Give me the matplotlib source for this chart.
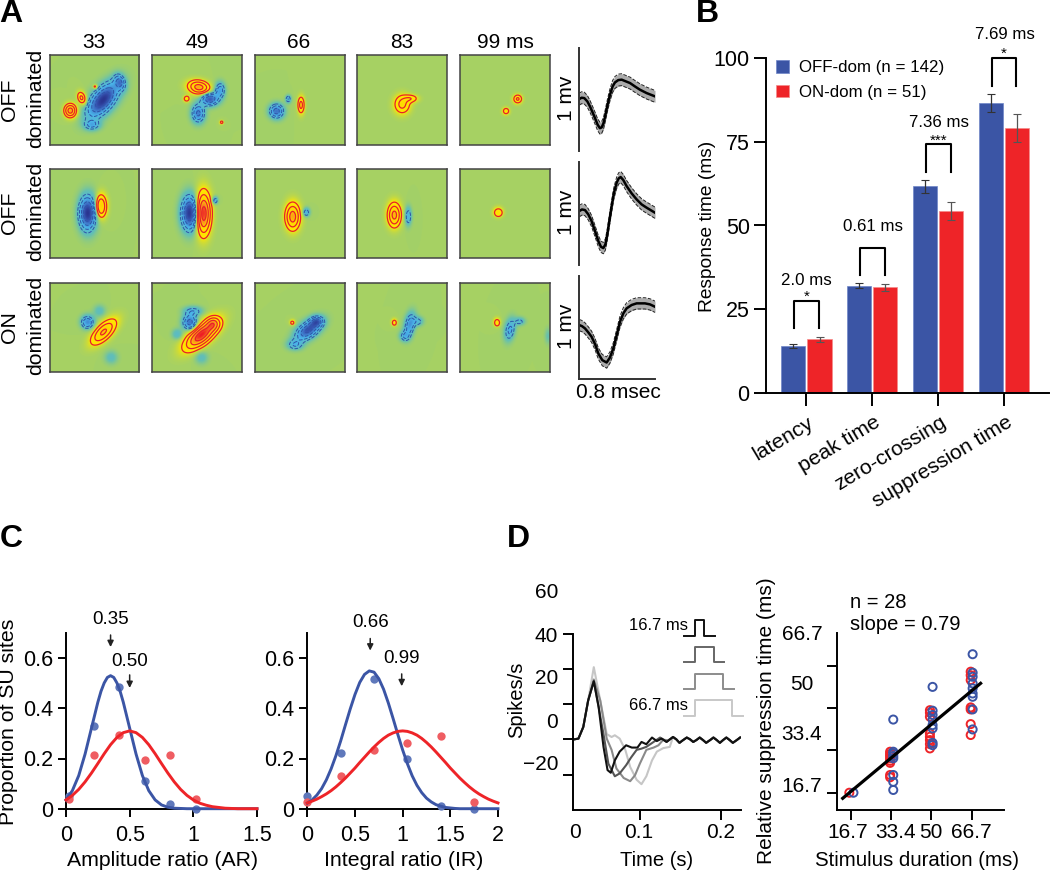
import numpy as np
import matplotlib
matplotlib.use('Agg')
import matplotlib.pyplot as plt
from matplotlib.colors import LinearSegmentedColormap

plt.rcParams['font.family'] = ['Liberation Sans', 'DejaVu Sans']
plt.rcParams['axes.linewidth'] = 1.4

W, H = 1050, 873
BLUE = '#3B55A5'
RED = '#EE2428'

# --- Panel A: receptive field spots, (x, y, sx, sy, angle, amplitude) read per map
column_titles = ['33', '49', '66', '83', '99 ms']
row_names = ['OFF', 'OFF', 'ON']
spots = [
    [
        [(.23, .62, .045, .05, 0, .95), (.357, .48, .032, .05, -20, .6), (.505, .353, .018, .018, 0, .4),
         (.59, .5, .16, .08, -50, -1.0), (.47, .78, .06, .04, 0, -.4), (.78, .3, .04, .06, -20, -.5)],
        [(.52, .36, .08, .05, 10, .95), (.383, .487, .024, .024, 0, .45), (.773, .75, .016, .016, 0, .35),
         (.643, .49, .065, .05, 0, -.8), (.513, .65, .05, .07, 0, -.65), (.755, .39, .04, .06, 0, -.5)],
        [(.513, .557, .026, .065, 0, .6), (.24, .625, .055, .055, 0, -.7), (.37, .49, .022, .03, 0, -.4)],
        [(.5, .55, .06, .07, 0, .6), (.6, .485, .055, .03, 0, .4)],
        [(.64, .49, .034, .034, 0, .55), (.51, .625, .028, .028, 0, .42)],
    ],
    [
        [(.57, .42, .042, .085, 0, .85), (.42, .5, .065, .13, 0, -1.0)],
        [(.57, .5, .055, .155, 0, 1.3), (.42, .5, .065, .13, 0, -1.0), (.7, .357, .024, .03, 0, -.4)],
        [(.42, .535, .055, .1, 0, .95), (.57, .49, .028, .034, 0, -.4)],
        [(.413, .517, .05, .09, 0, .9), (.569, .535, .026, .07, 0, -.4)],
        [(.424, .49, .036, .036, 0, .5)],
    ],
    [
        [(.42, .444, .05, .05, 0, -.6), (.6, .55, .12, .055, -45, .85), (.68, .84, .05, .05, 0, -.2),
         (.55, .32, .045, .045, 0, -.2)],
        [(.55, .585, .15, .065, -40, 1.3), (.68, .455, .05, .05, 0, .5), (.42, .444, .055, .06, 0, -.7),
         (.457, .32, .07, .035, 0, -.35), (.28, .58, .04, .04, 0, -.25), (.55, .84, .05, .05, 0, -.2)],
        [(.416, .447, .022, .022, 0, .35), (.595, .53, .11, .06, -35, -.85), (.69, .435, .05, .04, 0, -.5),
         (.446, .697, .06, .04, 0, -.35)],
        [(.413, .446, .022, .028, 0, .4), (.587, .47, .04, .09, 10, -.55), (.68, .435, .04, .035, 0, -.3),
         (.53, .6, .04, .04, 0, -.35)],
        [(.41, .446, .025, .032, 0, .45), (.554, .528, .04, .085, 10, -.45), (.665, .435, .04, .03, 0, -.3),
         (.98, .6, .025, .06, 0, -.15)],
    ],
]

# Panel A: mean spike waveforms
wave_t = [
    [0, .025, .053, .085, .113, .141, .166, .194, .218, .236, .254, .271, .296, .324, .352, .377, .412, .448,
     .493, .536, .588, .641, .712, .8],
    [0, .028, .06, .095, .13, .166, .201, .229, .254, .275, .296, .317, .342, .366, .395, .416, .437, .465, .5,
     .553, .606, .659, .712, .8],
    [0, .028, .06, .095, .13, .166, .201, .243, .289, .324, .359, .395, .43, .465, .5, .553, .606, .694, .747, .8],
]
wave_v = [
    [.502, .515, .511, .479, .43, .371, .316, .251, .218, .225, .261, .326, .436, .544, .625, .664, .687, .691,
     .674, .658, .625, .593, .56, .528],
    [.521, .537, .531, .489, .423, .326, .228, .173, .16, .195, .293, .423, .57, .7, .798, .84, .853, .824, .765,
     .694, .635, .586, .554, .505],
    [.521, .511, .489, .45, .407, .336, .244, .179, .156, .205, .293, .423, .554, .635, .684, .717, .733, .733,
     .723, .7],
]
wave_sem = [.058, .055, .055]

# --- Panel B
categories = ['latency', 'peak time', 'zero-crossing', 'suppression time']
off_time = [14, 32, 61.7, 86.5]
on_time = [16, 31.5, 54.2, 79]
off_err = [.7, .8, 1.9, 2.7]
on_err = [.8, 1.0, 2.7, 4.2]
diff_labels = ['2.0 ms', '0.61 ms', '7.36 ms', '7.69 ms']
diff_stars = ['*', '', '***', '*']
bracket_top = [27.5, 43.4, 74.2, 100.1]
bracket_low = [19.3, 35.2, 65.9, 91.7]
label_y = [33.7, 49.7, 80.7, 106.9]
star_y = [28.6, 0, 75.3, 101.2]

# --- Panel C
ar_blue_grid = [0, .05, .1, .15, .2, .25, .275, .3, .325, .35, .375, .4, .425, .45, .5, .55, .6, .65, .7, .75,
                .8, .85, .9, .95, 1.0, 1.5]
ar_blue = [.035, .072, .132, .218, .321, .424, .468, .501, .523, .53, .523, .501, .468, .424, .321, .218, .132,
           .072, .035, .015, .006, .002, .001, 0, 0, 0]
ar_red_grid = [.05 * i for i in range(31)]
ar_red = [.035, .053, .077, .107, .142, .18, .219, .255, .284, .303, .31, .303, .284, .255, .219, .18,
          .142, .107, .077, .053, .035, .022, .014, .008, .005, .002, .001, 0, 0, 0, 0]
ar_blue_x = [.02, .22, .42, .62, .82, 1.02]
ar_blue_y = [.05, .33, .485, .11, .02, 0]
ar_red_x = [.02, .22, .42, .62, .82, 1.02]
ar_red_y = [.04, .215, .295, .195, .215, .04]

ir_grid = [.05 * i for i in range(41)]
ir_blue = [.022, .035, .054, .08, .115, .159, .211, .27, .334, .397, .455, .503, .535, .549, .544, .518,
           .476, .421, .359, .295, .234, .179, .131, .093, .064, .042, .027, .016, .01, .005, .003, .001,
           0, 0, 0, 0, 0, 0, 0, 0, 0]
ir_red = [.023, .03, .038, .048, .059, .072, .087, .104, .122, .142, .162, .184, .205, .226, .246, .264,
          .28, .293, .302, .308, .31, .308, .302, .293, .28, .264, .246, .226, .205, .184, .162, .142,
          .122, .104, .087, .072, .059, .048, .038, .03, .023]
ir_blue_x = [0, .35, .7, 1.05, 1.4, 1.75]
ir_blue_y = [.05, .22, .515, .2, .01, 0]
ir_red_x = [0, .35, .7, 1.05, 1.4, 1.75]
ir_red_y = [.025, .13, .235, .26, .29, .025]

# --- Panel D, left: population PSTH for the four durations
psth_rise_t = [.019, .024, .030, .036]
psth_rise_v = [0, .4, 7, 22]
psth_tail_t = [.141, .145, .149, .153, .158, .162, .166, .170, .174, .178, .182, .187, .191, .195, .199, .203,
               .207, .211, .215, .220, .224]
psth_tail_v = [1.3, 0, -2, -.6, 1, 0, -1.5, -.4, 1, -.4, -2, -.4, 1, -.4, -2, -.4, 1, -.4, -2, -.4, 1]
psth_mid_t = [
    [.043, .049, .055, .060, .064, .069, .075, .083, .090, .097, .102, .108, .115, .121, .127, .133],
    [.043, .049, .055, .061, .069, .075, .083, .089, .096, .102, .108, .117, .125, .133],
    [.043, .051, .059, .065, .071, .080, .088, .094, .100, .108, .117, .123, .129, .135],
    [.043, .051, .059, .065, .069, .075, .082, .088, .096, .102, .108, .115, .121, .129, .137],
]
psth_mid_v = [
    [33, 18.3, -4.3, -17.5, -19, -12, -7, -3.4, -4.7, -4.7, -1.5, -2.8, 1, -1, .4, -1.5],
    [33, 18.3, 3, -13.8, -21, -19.4, -14.7, -10.4, -6, -5.3, -4.3, -1.5, 1, -1.5],
    [34, 22, .4, -6, -16.6, -22, -23.8, -20.4, -13.8, -6, -4.7, -3.4, -.2, -.6],
    [41, 22, 3, 1.3, 2.3, .4, -6, -15.7, -23, -25.5, -21, -12, -7, -5, -4.3],
]
psth_colors = ['#111111', '#555555', '#8a8a8a', '#c6c6c6']
stim_durations = [16.7, 33.4, 50, 66.7]

# --- Panel D, right
duration_ticks = [16.7, 33.4, 50, 66.7]
red_x = [16.0] + [32.9] * 8 + [49.4] * 8 + [66.3] * 7
red_y = [16.7, 32.9, 32, 31.2, 30.3, 29.3, 28.5, 23.7, 22.8, 49.3, 48.3, 46.7, 40.1, 38.8, 37.5, 35.9, 34.2,
         64.5, 63.1, 61.2, 50.4, 49.6, 43.8, 39.5]
blue_x = [17.7] + [34.2] * 8 + [50.5] * 8 + [67.1] * 9
blue_y = [16.7, 32.9, 32.2, 31.2, 30.3, 23.7, 21, 17.8, 45.6, 58.5, 49.1, 47.4, 45.6, 43.4, 42.1, 36.4, 35.5,
          71.4, 64.1, 62.5, 59.9, 57.9, 55.9, 54.6, 49.6, 41.7]
fit_x = [13.25, 70.4]
fit_y = [14.5, 59.9]


def px_axes(x0, y0, x1, y1):
    # axes from pixel box, y counted from the top of the image
    return fig.add_axes([x0 / W, 1 - y1 / H, (x1 - x0) / W, (y1 - y0) / H])


def px_text(x, y, s, **kw):
    kw.setdefault('ha', 'center')
    kw.setdefault('va', 'center')
    kw.setdefault('fontsize', 15)
    fig.text(x / W, 1 - y / H, s, **kw)


def open_axes(ax):
    ax.spines['top'].set_visible(False)
    ax.spines['right'].set_visible(False)
    ax.patch.set_alpha(0)


fig = plt.figure(figsize=(W / 100, H / 100), dpi=100)

for x, y, s in [(11, 14, 'A'), (707, 14, 'B'), (11, 539, 'C'), (518, 539, 'D')]:
    px_text(x, y, s, fontsize=23, fontweight='bold')

# A: maps
rf_cmap = LinearSegmentedColormap.from_list('rf', [
    (0, '#2a3590'), (.115, '#2a3590'), (.2, '#3a5fbc'), (.33, '#4ab4ea'), (.44, '#63bfb4'), (.5, '#A5D165'),
    (.6, '#ffe800'), (.8, '#ffd400'), (.9, '#f98a20'), (1, '#ee1c25')])
col_x = [49.7, 152.3, 255, 357.3, 460.3]
row_y = [55, 168.7, 282.7]
grid = np.linspace(0, 1, 220)
gx, gy = np.meshgrid(grid, grid)

for r, row in enumerate(spots):
    for c, spot_list in enumerate(row):
        ax = px_axes(col_x[c], row_y[r], col_x[c] + 89.7, row_y[r] + 89.7)
        field = np.zeros_like(gx)
        for x, y, sx, sy, angle, amp in spot_list:
            a = np.radians(angle)
            u = (gx - x) * np.cos(a) + (gy - y) * np.sin(a)
            v = -(gx - x) * np.sin(a) + (gy - y) * np.cos(a)
            field += amp * np.exp(-u ** 2 / (2 * sx ** 2) - v ** 2 / (2 * sy ** 2))
        ax.imshow(field, extent=[0, 1, 1, 0], cmap=rf_cmap, vmin=-1.3, vmax=1.3, aspect='auto')
        ax.contour(gx, gy, field, levels=[.25, .5, .8, 1.1], colors='#e8202a', linewidths=.9, linestyles='-')
        ax.contour(gx, gy, field, levels=[-.8, -.6, -.4, -.25], colors='#2f55a8', linewidths=.7, linestyles='--')
        ax.set_xticks([])
        ax.set_yticks([])
        for sp in ax.spines.values():
            sp.set_color('#444444')
            sp.set_linewidth(1.1)

for x, s in zip([94, 197, 299, 402, 505], column_titles):
    px_text(x, 42, s)
for y, s in zip([100, 213, 327], row_names):
    px_text(10, y, s, rotation=90, fontsize=15.3)
    px_text(36, y - 2, 'dominated', rotation=90, fontsize=15.3)

# A: waveforms
wave_top = [48, 162, 276]
for r in range(3):
    ax = px_axes(579.3, wave_top[r], 655, wave_top[r] + 102.5)
    t = np.array(wave_t[r])
    v = np.array(wave_v[r])
    ax.fill_between(t, v - wave_sem[r], v + wave_sem[r], color='#ababab', lw=0)
    ax.plot(t, v - wave_sem[r], color='#222222', lw=.7, ls='--')
    ax.plot(t, v + wave_sem[r], color='#222222', lw=.7, ls='--')
    ax.plot(t, v, color='black', lw=1.8)
    ax.set_xlim(0, .8)
    ax.set_ylim(0, 1)
    ax.set_xticks([])
    ax.set_yticks([])
    open_axes(ax)
    ax.spines['left'].set_color('#333333')
    ax.spines['bottom'].set_visible(r == 2)
    ax.spines['bottom'].set_color('#333333')
    px_text(567, wave_top[r] + 50, '1 mv', rotation=90)
px_text(618, 393, '0.8 msec')

# B: bars
ax = px_axes(765.7, 58, 1049, 393)
idx = np.arange(len(categories))
ax.bar(idx - .2, off_time, .365, color=BLUE, edgecolor='#6f86c8', linewidth=.5, label='OFF-dom (n = 142)')
ax.bar(idx + .2, on_time, .365, color=RED, edgecolor='#f58a8a', linewidth=.5, label='ON-dom (n = 51)')
ax.errorbar(idx - .2, off_time, yerr=off_err, fmt='none', ecolor='#333333', elinewidth=.9, capsize=3, capthick=.8)
ax.errorbar(idx + .2, on_time, yerr=on_err, fmt='none', ecolor='#555555', elinewidth=.9, capsize=3, capthick=.8)
for i in idx:
    ax.plot([i - .187, i - .187, i + .187, i + .187],
            [bracket_low[i], bracket_top[i], bracket_top[i], bracket_low[i]],
            color='black', lw=1.5, clip_on=False)
    ax.text(i + .005, label_y[i], diff_labels[i], ha='center', va='center', fontsize=12.2)
    if diff_stars[i]:
        ax.text(i, star_y[i], diff_stars[i], ha='center', va='center', fontsize=11)
ax.set_xlim(-.616, 3.68)
ax.set_ylim(0, 100)
ax.set_yticks([0, 25, 50, 75, 100])
ax.tick_params(axis='y', length=8.5, width=1.4, labelsize=15.5, pad=3)
ax.set_xticks(idx)
ax.set_xticklabels([])
ax.tick_params(axis='x', length=9.5, width=1.4)
open_axes(ax)
ax.legend(loc='upper left', bbox_to_anchor=(.036, .994), frameon=False, fontsize=12.2, handlelength=.78,
          handleheight=.78, handletextpad=.6, labelspacing=.55, borderpad=0, borderaxespad=0)
for x, s in zip([812, 879, 945, 1011], categories):
    px_text(x, 421, s, ha='right', rotation=31, rotation_mode='anchor', fontsize=15.2)
px_text(707, 226, 'Response time (ms)', rotation=90, fontsize=13.8)

# C
panels_c = [
    ((66, 633, 257, 808.7), ar_blue_grid, ar_blue, ar_red_grid, ar_red, ar_blue_x, ar_blue_y, ar_red_x, ar_red_y,
     [0, .5, 1, 1.5], ['0', '0.5', '1', '1.5'], 'Amplitude ratio (AR)',
     [(.35, '0.35', .752, .692, .644, .35), (.5, '0.50', .587, .533, .481, .5)]),
    ((307.3, 633, 498, 808.7), ir_grid, ir_blue, ir_grid, ir_red, ir_blue_x, ir_blue_y, ir_red_x, ir_red_y,
     [0, .5, 1, 1.5, 2], ['0', '0.5', '1', '1.5', '2'], 'Integral ratio (IR)',
     [(.66, '0.66', .741, .678, .63, .66), (.99, '0.99', .6, .537, .488, .99)]),
]
for box, bgrid, cb, rgrid, cr, bx, by, rx, ry, xt, xtl, xlab, arrows in panels_c:
    ax = px_axes(*box)
    ax.scatter(bx, by, s=36, color='#5f78bb', clip_on=False, zorder=3, lw=0)
    ax.scatter(rx, ry, s=36, color='#ef5d62', clip_on=False, zorder=3, lw=0)
    ax.plot(bgrid, cb, color=BLUE, lw=2.1, zorder=4, clip_on=False)
    ax.plot(rgrid, cr, color=RED, lw=2.1, zorder=5, clip_on=False)
    ax.set_xlim(xt[0], xt[-1])
    ax.set_ylim(0, .7)
    ax.set_xticks(xt)
    ax.set_xticklabels(xtl)
    ax.set_yticks([0, .2, .4, .6])
    ax.set_yticklabels(['0', '0.2', '0.4', '0.6'])
    ax.tick_params(length=6, width=1.4, labelsize=15.5)
    ax.tick_params(axis='x', pad=6)
    open_axes(ax)
    for x, s, ytext, y0, y1, xtext in arrows:
        ax.text(xtext, ytext, s, ha='center', va='center', fontsize=13.5)
        ax.annotate('', xy=(x, y1), xytext=(x, y0), annotation_clip=False,
                    arrowprops=dict(arrowstyle='-|>', color='#222222', lw=1.1, shrinkA=0, shrinkB=0,
                                    mutation_scale=9))
    px_text((box[0] + box[2]) / 2 + 1, 861, xlab, fontsize=15.3)
px_text(9, 722, 'Proportion of SU sites', rotation=90, fontsize=15.3)

# D left
ax = px_axes(572.7, 633.7, 741, 809.7)
for k in [3, 2, 1, 0]:
    t = psth_rise_t + psth_mid_t[k] + psth_tail_t
    v = psth_rise_v + psth_mid_v[k] + psth_tail_v
    ax.plot(t, v, color=psth_colors[k], lw=1.5)
ax.set_xlim(.0169, .2251)
ax.set_ylim(-40, 60)
ax.set_xticks([.1, .2])
ax.set_xticklabels([])
ax.set_yticks([60, 40, 20, 0, -20])
ax.set_yticklabels([])
ax.tick_params(length=7, width=1.4)
open_axes(ax)
for y, s in zip([593, 637, 679, 722, 765], ['60', '40', '20', '0', '\u221220']):
    px_text(558, y, s, ha='right')
for x, s in zip([575, 639, 721], ['0', '0.1', '0.2']):
    px_text(x, 833, s)
px_text(657, 861, 'Time (s)', fontsize=14.5)
px_text(517, 700, 'Spikes/s', rotation=90, fontsize=14.5)

# D left, stimulus steps
ax = px_axes(684.3, 616.7, 743.3, 718.3)
for k, d in enumerate(stim_durations):
    base = -k
    ax.plot([-18.2, 0, 0, d, d, d + 19], [base, base, base + .575, base + .575, base, base],
            color=['#111111', '#666666', '#8c8c8c', '#c8c8c8'][k], lw=1.4, clip_on=False)
ax.set_xlim(-18.2, 85.9)
ax.set_ylim(-3.1, .7125)
ax.axis('off')
px_text(688, 626, '16.7 ms', ha='right', fontsize=12)
px_text(688, 706, '66.7 ms', ha='right', fontsize=12)

# D right
ax = px_axes(836.7, 632.7, 1004, 809.7)
ax.scatter(red_x, red_y, s=34, facecolors='none', edgecolors=RED, linewidths=1.4, zorder=2)
ax.scatter(blue_x, blue_y, s=34, facecolors='none', edgecolors=BLUE, linewidths=1.4, zorder=3)
ax.plot(fit_x, fit_y, color='black', lw=2.3, zorder=4)
ax.set_xlim(10.76, 80.1)
ax.set_ylim(10, 79.9)
ax.set_xticks(duration_ticks)
ax.set_xticklabels([])
ax.set_yticks(duration_ticks)
ax.set_yticklabels([])
ax.tick_params(length=7, width=1.4)
open_axes(ax)
for y, s in zip([634, 684, 735, 787], ['66.7', '50', '33.4', '16.7']):
    px_text(802, y, s)
for x, s in zip([847.7, 895.7, 931, 971], ['16.7', '33.4', '50', '66.7']):
    px_text(x, 833, s)
px_text(916.7, 861, 'Stimulus duration (ms)', fontsize=14.7)
px_text(766, 721, 'Relative suppression time (ms)', rotation=90)
px_text(850, 603, 'n = 28', ha='left', fontsize=14.5)
px_text(850, 625, 'slope = 0.79', ha='left', fontsize=14.5)

fig.savefig('out.png', dpi=100)
